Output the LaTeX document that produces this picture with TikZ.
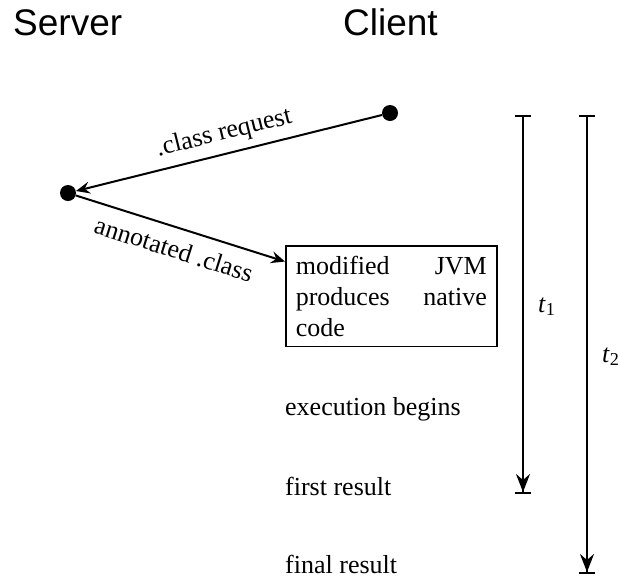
\documentclass[tikz,border=0pt]{standalone}
\usepackage{fontspec}
\setmainfont{Liberation Serif}
\newfontfamily\headfont{Liberation Sans}
\usetikzlibrary{arrows.meta}
\hbadness=10000
\tikzset{
	msgdot/.style={circle,fill,inner sep=0pt,minimum size=16pt},
	msg/.style={line width=2pt,-{Stealth[length=14pt,width=12pt,inset=5pt]}},
	interval/.style={line width=2pt,{Bar[width=16pt]}-{Stealth[length=18pt,width=14pt,inset=6pt]Bar[width=16pt]}},
	event/.style={anchor=base west,inner sep=0pt},
	head/.style={anchor=base west,inner sep=0pt,font=\headfont\fontsize{37pt}{44pt}\selectfont},
}
\begin{document}
\begin{tikzpicture}[x=1pt,y=1pt,font=\fontsize{26pt}{31pt}\selectfont]
				\useasboundingbox (0,0) rectangle (618,-579);
				\node[head] (serverhead) at (13,-35) {Server};
				\node[head] (clienthead) at (343,-35) {Client};
				\node[msgdot] (client) at (390,-113) {};
				\node[msgdot] (server) at (68,-193) {};
				\node[draw,line width=1.6pt,text width=191pt,inner sep=10pt,align=justify,anchor=north west] (jvm) at (285,-245) {modified JVM produces native code};
				\draw[msg] (client) -- (server) node[midway,sloped,above=4pt] (req) {.class request};
				\draw[msg] (server) -- (jvm.162) node[midway,sloped,below=8pt] (ans) {annotated .class};
				\node[event] (exec) at (285,-415) {execution begins};
				\node[event] (first) at (285,-495) {first result};
				\node[event] (final) at (285,-573) {final result};
				\coordinate (t1top) at (523,-115);
				\coordinate (t1end) at (523,-494);
				\coordinate (t2top) at (587,-115);
				\coordinate (t2end) at (587,-574);
				\draw[interval] (t1top) -- (t1end);
				\draw[interval] (t2top) -- (t2end);
				\node[event] (t1lab) at (538,-312) {\textit{t}\textsubscript{1}};
				\node[event] (t2lab) at (602,-362) {\textit{t}\textsubscript{2}};
\end{tikzpicture}
\end{document}
